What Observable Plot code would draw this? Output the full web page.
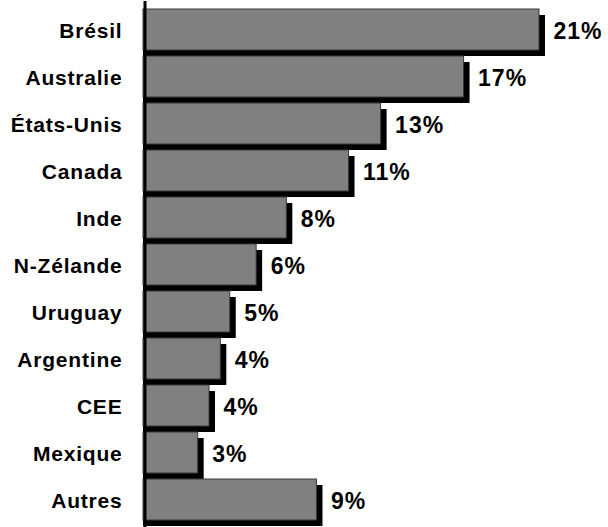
<!DOCTYPE html>
<html>
<head>
<meta charset="utf-8">
<script src="https://cdn.jsdelivr.net/npm/d3@7"></script>
<script src="https://cdn.jsdelivr.net/npm/@observablehq/plot@0.6"></script>
<style>
  html, body { margin: 0; padding: 0; background: #fff; }
  #chart svg { display: block; font-family: "Liberation Sans", Arial, sans-serif; }
  #chart svg g[aria-label="y-axis tick label"] text { letter-spacing: 0.8px; }
  #chart svg g[aria-label="text"] text { letter-spacing: 1px; }
</style>
</head>
<body>
<div id="chart"></div>
<script>
const countries = ["Brésil", "Australie", "États-Unis", "Canada", "Inde", "N-Zélande", "Uruguay", "Argentine", "CEE", "Mexique", "Autres"];
const shares = [21, 17, 12.6, 10.9, 7.6, 6.0, 4.6, 4.1, 3.5, 2.9, 9.2];
const shareLabels = ["21%", "17%", "13%", "11%", "8%", "6%", "5%", "4%", "4%", "3%", "9%"];

const data = countries.map((c, i) => ({name: c, value: shares[i], label: shareLabels[i]}));

const chart = Plot.plot({
  width: 608,
  height: 527,
  marginLeft: 143,
  marginRight: 0,
  marginTop: 1,
  marginBottom: 0,
  style: {fontFamily: '"Liberation Sans", Arial, sans-serif', background: "#fff"},
  x: {domain: [0, 24.66], axis: null},
  y: {domain: countries, padding: 0.135, label: null},
  marks: [
    Plot.barX(data, {x: "value", y: "name", fill: "black", dy: 6, insetRight: -6}),
    Plot.barX(data, {x: "value", y: "name", fill: "#808080", stroke: "#3a3a3a", strokeWidth: 1}),
    Plot.ruleX([0], {stroke: "black", strokeWidth: 3, dx: 1.5}),
    Plot.axisY({tickSize: 0, tickPadding: 21, fontSize: 21, fontWeight: "bold", fill: "black", dy: 1.5, label: null}),
    Plot.text(data, {x: "value", y: "name", text: "label", dx: 14, dy: 1.5, textAnchor: "start", fontSize: 23, fontWeight: "bold", fill: "black"})
  ]
});
document.getElementById("chart").appendChild(chart);
</script>
</body>
</html>
